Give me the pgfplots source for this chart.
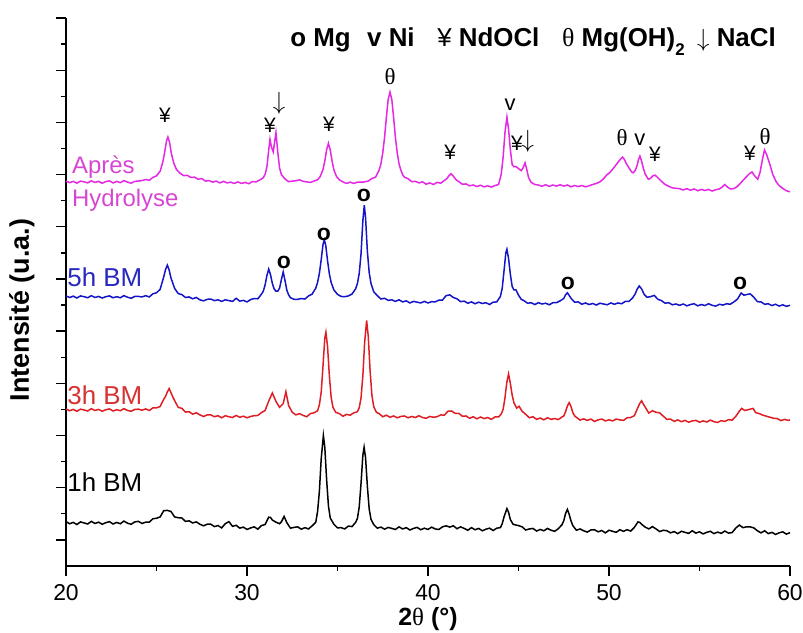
\documentclass[border=0pt]{standalone}
\usepackage{fontspec}
\setmainfont{Liberation Sans}
\newfontfamily\serif{Liberation Serif}
\usepackage{pgfplots}
\pgfplotsset{compat=1.18}
\definecolor{cred}{RGB}{222,30,36}
\definecolor{cblue}{RGB}{20,20,200}
\definecolor{cmag}{RGB}{228,40,228}
\definecolor{lmag}{RGB}{215,70,210}
\definecolor{lblue}{RGB}{40,40,190}
\definecolor{lred}{RGB}{215,50,50}
\newcommand{\fs}[1]{\fontsize{#1}{#1}\selectfont}
\begin{document}
\begin{tikzpicture}
\useasboundingbox (-66bp,-67bp) rectangle (737bp,566bp);
\begin{axis}[
 at={(0,0)}, anchor=south west, scale only axis, width=724bp, height=548bp,
 xmin=20, xmax=60, ymin=0, ymax=21,
 axis x line*=bottom, axis y line*=left,
 xtick={20,30,...,60}, minor xtick={25,35,45,55},
 ytick={1,3,...,21}, minor ytick={2,4,...,20}, yticklabels={},
 tick align=outside, major tick length=10bp, minor tick length=5bp,
 tick style={black, line width=1.3bp},
 axis line style={line width=1.5bp},
 xticklabel style={font=\fs{23}, yshift=-5bp},
 /pgf/number format/assume math mode=true,
 clip=false,
]
\addplot[black, line width=1.5bp] coordinates {(20.0,1.70)(20.2,1.62)(20.4,1.67)(20.6,1.59)(20.8,1.69)(21.0,1.65)(21.2,1.61)(21.4,1.71)(21.6,1.63)(21.8,1.68)(22.0,1.60)(22.2,1.66)(22.4,1.70)(22.6,1.61)(22.8,1.67)(23.0,1.62)(23.2,1.72)(23.4,1.64)(23.6,1.60)(23.8,1.69)(24.0,1.71)(24.2,1.63)(24.4,1.68)(24.6,1.68)(24.8,1.81)(25.0,1.83)(25.2,1.88)(25.4,2.12)(25.6,2.13)(25.8,2.09)(26.0,1.88)(26.2,1.85)(26.4,1.84)(26.6,1.71)(26.8,1.73)(27.0,1.65)(27.2,1.69)(27.4,1.60)(27.6,1.54)(27.8,1.60)(28.0,1.60)(28.2,1.51)(28.4,1.55)(28.6,1.46)(28.8,1.62)(29.0,1.70)(29.2,1.52)(29.4,1.56)(29.6,1.45)(29.8,1.49)(30.0,1.40)(30.2,1.46)(30.4,1.50)(30.6,1.41)(30.8,1.55)(31.0,1.59)(31.2,1.87)(31.3,1.86)(31.4,1.76)(31.6,1.68)(31.8,1.62)(31.9,1.69)(32.05,1.90)(32.2,1.66)(32.4,1.45)(32.6,1.48)(32.8,1.50)(33.0,1.41)(33.2,1.47)(33.4,1.42)(33.6,1.54)(33.8,1.68)(33.9,2.09)(34.0,2.87)(34.1,4.11)(34.22,5.00)(34.3,4.54)(34.4,3.30)(34.5,2.30)(34.6,1.84)(34.8,1.60)(35.0,1.46)(35.2,1.47)(35.4,1.42)(35.6,1.53)(35.8,1.51)(36.0,1.67)(36.1,1.82)(36.2,2.26)(36.3,3.16)(36.4,4.24)(36.47,4.55)(36.55,4.15)(36.65,3.06)(36.75,2.19)(36.85,1.79)(37.0,1.59)(37.2,1.45)(37.4,1.49)(37.6,1.41)(37.8,1.48)(38.0,1.44)(38.2,1.40)(38.4,1.50)(38.6,1.42)(38.8,1.47)(39.0,1.38)(39.2,1.44)(39.4,1.48)(39.6,1.39)(39.8,1.45)(40.0,1.40)(40.2,1.49)(40.4,1.42)(40.6,1.40)(40.8,1.50)(41.0,1.54)(41.2,1.49)(41.4,1.54)(41.6,1.43)(41.8,1.50)(42.0,1.44)(42.2,1.37)(42.4,1.47)(42.6,1.39)(42.8,1.44)(43.0,1.35)(43.2,1.41)(43.4,1.45)(43.6,1.36)(43.8,1.45)(44.0,1.47)(44.1,1.62)(44.2,1.88)(44.36,2.20)(44.45,2.06)(44.55,1.78)(44.7,1.60)(44.85,1.57)(45.0,1.55)(45.2,1.50)(45.4,1.38)(45.6,1.42)(45.8,1.44)(46.0,1.34)(46.2,1.40)(46.4,1.35)(46.6,1.44)(46.8,1.37)(47.0,1.33)(47.2,1.43)(47.4,1.58)(47.5,1.73)(47.6,2.01)(47.7,2.17)(47.8,1.98)(47.9,1.73)(48.0,1.55)(48.2,1.37)(48.4,1.42)(48.6,1.35)(48.8,1.30)(49.0,1.38)(49.2,1.39)(49.4,1.31)(49.6,1.36)(49.8,1.27)(50.0,1.37)(50.2,1.33)(50.4,1.29)(50.6,1.39)(50.8,1.33)(51.0,1.39)(51.2,1.34)(51.4,1.48)(51.6,1.69)(51.7,1.67)(51.8,1.60)(52.0,1.49)(52.2,1.42)(52.4,1.51)(52.6,1.42)(52.8,1.32)(53.0,1.37)(53.2,1.35)(53.4,1.27)(53.6,1.32)(53.8,1.24)(54.0,1.33)(54.2,1.29)(54.4,1.25)(54.6,1.35)(54.8,1.26)(55.0,1.31)(55.2,1.23)(55.4,1.29)(55.6,1.33)(55.8,1.24)(56.0,1.30)(56.2,1.25)(56.4,1.34)(56.6,1.26)(56.8,1.28)(57.0,1.45)(57.2,1.57)(57.4,1.47)(57.6,1.50)(57.8,1.50)(58.0,1.46)(58.2,1.35)(58.4,1.27)(58.6,1.35)(58.8,1.24)(59.0,1.29)(59.2,1.21)(59.4,1.27)(59.6,1.31)(59.8,1.22)(60.0,1.28)};
\addplot[cred, line width=1.5bp] coordinates {(20.0,6.02)(20.2,5.95)(20.4,6.00)(20.6,5.93)(20.8,6.01)(21.0,5.98)(21.2,5.94)(21.4,6.03)(21.6,5.96)(21.8,6.00)(22.0,5.93)(22.2,5.99)(22.4,6.02)(22.6,5.94)(22.8,5.99)(23.0,5.95)(23.2,6.03)(23.4,5.96)(23.6,5.93)(23.8,6.00)(24.0,6.01)(24.2,5.97)(24.4,6.02)(24.6,5.96)(24.8,6.06)(25.0,6.06)(25.2,6.11)(25.4,6.39)(25.5,6.50)(25.6,6.67)(25.7,6.80)(25.8,6.64)(25.9,6.48)(26.0,6.34)(26.2,6.08)(26.4,6.04)(26.6,5.90)(26.8,5.91)(27.0,5.82)(27.2,5.87)(27.4,5.79)(27.6,5.73)(27.8,5.79)(28.0,5.79)(28.2,5.72)(28.4,5.76)(28.6,5.68)(28.8,5.76)(29.0,5.72)(29.2,5.69)(29.4,5.77)(29.6,5.70)(29.8,5.74)(30.0,5.68)(30.2,5.73)(30.4,5.76)(30.6,5.77)(30.8,5.88)(31.0,5.96)(31.2,6.32)(31.4,6.63)(31.6,6.31)(31.8,6.08)(32.0,6.22)(32.15,6.68)(32.3,6.15)(32.5,5.89)(32.7,5.79)(32.9,5.84)(33.1,5.77)(33.3,5.72)(33.5,5.84)(33.7,5.87)(33.9,5.95)(34.0,6.18)(34.1,6.66)(34.2,7.68)(34.3,8.74)(34.36,8.96)(34.45,8.42)(34.55,7.30)(34.65,6.46)(34.75,6.08)(34.9,5.89)(35.1,5.84)(35.3,5.74)(35.5,5.81)(35.7,5.78)(35.9,5.87)(36.1,5.91)(36.2,6.07)(36.3,6.44)(36.4,7.28)(36.5,8.57)(36.61,9.41)(36.7,8.79)(36.8,7.50)(36.9,6.55)(37.0,6.11)(37.15,5.89)(37.3,5.84)(37.5,5.72)(37.7,5.78)(37.9,5.70)(38.1,5.75)(38.3,5.68)(38.5,5.73)(38.7,5.75)(38.9,5.68)(39.1,5.73)(39.3,5.69)(39.5,5.76)(39.7,5.69)(39.9,5.66)(40.1,5.73)(40.3,5.70)(40.5,5.72)(40.7,5.79)(40.9,5.78)(41.1,5.93)(41.3,5.94)(41.5,5.85)(41.7,5.85)(41.9,5.74)(42.1,5.75)(42.3,5.66)(42.5,5.72)(42.7,5.64)(42.9,5.71)(43.1,5.65)(43.3,5.69)(43.5,5.62)(43.7,5.71)(43.9,5.71)(44.05,5.83)(44.15,6.00)(44.25,6.43)(44.35,7.02)(44.45,7.36)(44.55,7.00)(44.65,6.55)(44.75,6.25)(44.9,6.05)(45.03,6.12)(45.2,5.93)(45.4,5.81)(45.6,5.68)(45.8,5.72)(46.0,5.62)(46.2,5.67)(46.4,5.60)(46.6,5.68)(46.8,5.62)(47.0,5.65)(47.2,5.61)(47.4,5.71)(47.5,5.75)(47.6,5.91)(47.7,6.13)(47.8,6.26)(47.9,6.11)(48.0,5.88)(48.1,5.75)(48.25,5.67)(48.4,5.59)(48.6,5.64)(48.8,5.58)(49.0,5.63)(49.2,5.54)(49.4,5.60)(49.6,5.63)(49.8,5.56)(50.0,5.60)(50.2,5.56)(50.4,5.63)(50.6,5.60)(50.8,5.58)(51.0,5.68)(51.2,5.69)(51.4,5.76)(51.6,6.08)(51.7,6.23)(51.8,6.33)(51.9,6.20)(52.0,6.09)(52.2,5.86)(52.4,5.95)(52.6,5.89)(52.8,5.87)(53.0,5.74)(53.2,5.62)(53.4,5.63)(53.6,5.54)(53.8,5.60)(54.0,5.53)(54.2,5.58)(54.4,5.51)(54.6,5.56)(54.8,5.58)(55.0,5.51)(55.2,5.56)(55.4,5.52)(55.6,5.59)(55.8,5.53)(56.0,5.50)(56.2,5.57)(56.4,5.54)(56.6,5.61)(56.8,5.59)(57.0,5.73)(57.2,5.93)(57.33,6.04)(57.5,5.96)(57.7,5.99)(57.96,6.04)(58.1,5.88)(58.3,5.84)(58.5,5.78)(58.7,5.74)(58.9,5.70)(59.1,5.66)(59.3,5.65)(59.5,5.57)(59.7,5.62)(59.9,5.58)(60.0,5.60)};
\addplot[cblue, line width=1.5bp] coordinates {(20.0,10.35)(20.2,10.29)(20.4,10.34)(20.6,10.27)(20.8,10.35)(21.0,10.32)(21.2,10.28)(21.4,10.36)(21.6,10.29)(21.8,10.33)(22.0,10.27)(22.2,10.32)(22.4,10.35)(22.6,10.28)(22.8,10.32)(23.0,10.28)(23.2,10.36)(23.4,10.30)(23.6,10.26)(23.8,10.33)(24.0,10.33)(24.2,10.31)(24.4,10.36)(24.6,10.31)(24.8,10.43)(25.0,10.47)(25.2,10.60)(25.4,11.08)(25.5,11.36)(25.6,11.53)(25.7,11.34)(25.8,11.04)(26.0,10.64)(26.2,10.44)(26.4,10.40)(26.6,10.29)(26.8,10.31)(27.0,10.24)(27.2,10.29)(27.4,10.20)(27.6,10.16)(27.8,10.22)(28.0,10.23)(28.2,10.17)(28.4,10.20)(28.6,10.14)(28.8,10.20)(29.0,10.17)(29.2,10.14)(29.4,10.26)(29.6,10.15)(29.8,10.18)(30.0,10.12)(30.2,10.21)(30.4,10.25)(30.6,10.24)(30.8,10.42)(30.9,10.53)(31.0,10.77)(31.1,11.13)(31.2,11.38)(31.3,11.16)(31.4,10.83)(31.5,10.62)(31.6,10.53)(31.7,10.53)(31.8,10.65)(31.9,10.97)(32.0,11.27)(32.1,10.94)(32.2,10.57)(32.3,10.39)(32.4,10.28)(32.6,10.22)(32.8,10.22)(33.0,10.25)(33.2,10.23)(33.4,10.35)(33.6,10.42)(33.8,10.65)(33.9,10.87)(34.0,11.22)(34.1,11.74)(34.2,12.32)(34.27,12.50)(34.35,12.29)(34.45,11.70)(34.55,11.20)(34.65,10.86)(34.8,10.58)(35.0,10.41)(35.2,10.33)(35.4,10.32)(35.6,10.35)(35.8,10.42)(36.0,10.62)(36.1,10.82)(36.2,11.21)(36.3,11.96)(36.4,13.22)(36.48,13.83)(36.55,13.35)(36.65,12.06)(36.75,11.25)(36.85,10.83)(37.0,10.51)(37.2,10.36)(37.4,10.23)(37.6,10.26)(37.8,10.18)(38.0,10.20)(38.2,10.14)(38.4,10.20)(38.6,10.12)(38.8,10.16)(39.0,10.08)(39.2,10.14)(39.4,10.11)(39.6,10.08)(39.8,10.14)(40.0,10.08)(40.2,10.13)(40.4,10.12)(40.6,10.19)(40.8,10.19)(41.0,10.36)(41.2,10.39)(41.4,10.29)(41.6,10.24)(41.8,10.13)(42.0,10.15)(42.2,10.07)(42.4,10.12)(42.6,10.05)(42.8,10.11)(43.0,10.06)(43.2,10.09)(43.4,10.02)(43.6,10.11)(43.8,10.12)(44.0,10.33)(44.1,10.64)(44.2,11.31)(44.3,12.00)(44.36,12.14)(44.45,11.79)(44.55,11.18)(44.65,10.71)(44.75,10.58)(44.86,10.58)(45.0,10.38)(45.15,10.22)(45.3,10.17)(45.5,10.07)(45.7,10.09)(45.9,10.02)(46.1,10.09)(46.3,10.04)(46.5,10.07)(46.7,10.01)(46.9,10.09)(47.1,10.09)(47.3,10.16)(47.5,10.25)(47.6,10.39)(47.7,10.47)(47.8,10.37)(47.9,10.26)(48.1,10.11)(48.3,10.12)(48.5,10.03)(48.7,10.08)(48.9,10.02)(49.1,10.06)(49.3,10.00)(49.5,10.07)(49.7,10.04)(49.9,10.01)(50.1,10.08)(50.3,10.03)(50.5,10.08)(50.7,10.05)(50.9,10.14)(51.1,10.14)(51.3,10.27)(51.45,10.43)(51.55,10.60)(51.67,10.73)(51.8,10.62)(51.95,10.40)(52.1,10.30)(52.3,10.32)(52.5,10.37)(52.7,10.22)(52.9,10.17)(53.1,10.07)(53.3,10.09)(53.5,10.01)(53.7,10.04)(53.9,9.99)(54.1,10.04)(54.3,9.97)(54.5,10.02)(54.7,10.05)(54.9,9.97)(55.1,10.02)(55.3,9.98)(55.5,10.05)(55.7,9.99)(55.9,9.96)(56.1,10.03)(56.3,10.00)(56.5,10.05)(56.7,10.03)(56.9,10.12)(57.1,10.23)(57.3,10.46)(57.45,10.38)(57.6,10.40)(57.8,10.43)(58.0,10.30)(58.2,10.13)(58.4,10.12)(58.6,10.03)(58.8,10.05)(59.0,9.98)(59.2,10.03)(59.4,9.96)(59.6,10.01)(59.8,9.95)(60.0,9.99)};
\addplot[cmag, line width=1.5bp] coordinates {(20.0,14.75)(20.2,14.69)(20.4,14.74)(20.6,14.67)(20.8,14.75)(21.0,14.72)(21.2,14.68)(21.4,14.76)(21.6,14.70)(21.8,14.74)(22.0,14.67)(22.2,14.73)(22.4,14.76)(22.6,14.68)(22.8,14.74)(23.0,14.69)(23.2,14.77)(23.4,14.71)(23.6,14.67)(23.8,14.74)(24.0,14.75)(24.2,14.77)(24.4,14.81)(24.6,14.78)(24.8,14.89)(25.0,14.95)(25.2,15.13)(25.35,15.48)(25.45,15.85)(25.55,16.28)(25.63,16.44)(25.72,16.24)(25.82,15.81)(25.95,15.45)(26.1,15.20)(26.3,15.05)(26.5,14.96)(26.7,14.97)(26.9,14.89)(27.1,14.90)(27.3,14.82)(27.5,14.85)(27.7,14.75)(27.9,14.77)(28.1,14.71)(28.3,14.75)(28.5,14.68)(28.7,14.74)(28.9,14.68)(29.1,14.71)(29.3,14.66)(29.5,14.72)(29.7,14.66)(29.9,14.70)(30.1,14.65)(30.3,14.73)(30.5,14.72)(30.7,14.79)(30.9,14.88)(31.0,15.01)(31.1,15.29)(31.2,15.94)(31.27,16.35)(31.35,16.06)(31.45,15.87)(31.53,16.28)(31.6,16.61)(31.7,15.86)(31.8,15.25)(31.9,15.00)(32.1,14.83)(32.3,14.73)(32.5,14.75)(32.7,14.76)(32.9,14.80)(33.1,14.74)(33.3,14.72)(33.5,14.70)(33.7,14.75)(33.9,14.80)(34.05,14.93)(34.2,15.20)(34.3,15.52)(34.4,15.95)(34.5,16.20)(34.6,15.94)(34.7,15.52)(34.8,15.18)(34.95,14.92)(35.1,14.80)(35.3,14.72)(35.5,14.66)(35.7,14.71)(35.9,14.66)(36.1,14.71)(36.4,14.71)(36.7,14.75)(36.9,14.85)(37.1,14.90)(37.3,15.17)(37.4,15.41)(37.5,15.83)(37.6,16.42)(37.7,17.19)(37.8,17.88)(37.9,18.16)(38.0,17.88)(38.1,17.19)(38.2,16.42)(38.3,15.83)(38.4,15.41)(38.5,15.17)(38.6,14.99)(38.7,14.90)(38.9,14.84)(39.1,14.73)(39.3,14.74)(39.5,14.68)(39.7,14.72)(39.9,14.63)(40.1,14.68)(40.3,14.62)(40.5,14.70)(40.7,14.67)(40.9,14.77)(41.05,14.85)(41.15,14.95)(41.27,15.03)(41.4,14.94)(41.55,14.80)(41.7,14.73)(41.9,14.63)(42.1,14.64)(42.3,14.57)(42.5,14.60)(42.7,14.54)(42.9,14.59)(43.1,14.53)(43.3,14.57)(43.5,14.52)(43.7,14.58)(43.9,14.62)(44.05,15.03)(44.15,15.66)(44.25,16.59)(44.36,17.20)(44.45,16.75)(44.55,15.95)(44.65,15.38)(44.75,15.30)(44.85,15.31)(44.95,15.26)(45.05,15.20)(45.15,15.15)(45.25,15.25)(45.36,15.45)(45.45,15.22)(45.55,14.90)(45.7,14.70)(45.9,14.62)(46.1,14.60)(46.3,14.55)(46.5,14.61)(46.7,14.55)(46.9,14.60)(47.1,14.56)(47.3,14.61)(47.5,14.56)(47.7,14.60)(47.9,14.53)(48.1,14.58)(48.3,14.54)(48.5,14.58)(48.7,14.53)(48.9,14.57)(49.1,14.62)(49.3,14.66)(49.5,14.72)(49.7,14.84)(49.87,14.98)(50.05,15.08)(50.24,15.24)(50.4,15.38)(50.55,15.52)(50.65,15.60)(50.75,15.67)(50.85,15.58)(50.95,15.43)(51.1,15.26)(51.25,15.10)(51.35,15.07)(51.45,15.16)(51.55,15.34)(51.63,15.58)(51.71,15.71)(51.8,15.52)(51.9,15.24)(52.0,15.02)(52.17,14.82)(52.3,14.86)(52.42,14.95)(52.54,14.98)(52.7,14.88)(52.9,14.74)(53.1,14.62)(53.3,14.55)(53.5,14.49)(53.74,14.47)(53.9,14.46)(54.1,14.41)(54.3,14.46)(54.5,14.40)(54.7,14.45)(54.9,14.38)(55.1,14.43)(55.3,14.39)(55.5,14.43)(55.7,14.37)(55.9,14.42)(56.1,14.45)(56.25,14.52)(56.4,14.62)(56.55,14.52)(56.7,14.45)(56.9,14.46)(57.1,14.55)(57.25,14.66)(57.42,14.79)(57.6,14.92)(57.75,15.03)(57.9,15.10)(58.05,14.95)(58.22,14.82)(58.35,15.10)(58.47,15.55)(58.59,15.94)(58.7,15.78)(58.87,15.43)(59.05,15.00)(59.24,14.72)(59.4,14.58)(59.6,14.47)(59.8,14.38)(60.0,14.34)};
% curve labels
\node[anchor=west, inner sep=0, text=lmag, font=\fs{24}] at (axis cs:20.33,15.29) {Après};
\node[anchor=west, inner sep=0, text=lmag, font=\fs{24}] at (axis cs:20.33,14.02) {Hydrolyse};
\node[anchor=west, inner sep=0, text=lblue, font=\fs{26}] at (axis cs:20.07,11.07) {5h BM};
\node[anchor=west, inner sep=0, text=lred, font=\fs{26}] at (axis cs:20.07,6.55) {3h BM};
\node[anchor=west, inner sep=0, text=black, font=\fs{26}] at (axis cs:20.07,3.22) {1h BM};
% peak annotations
\begin{scope}[every node/.style={inner sep=0, font=\fs{21}}]
\node at (axis cs:25.47,17.28) {¥};
\node at (axis cs:31.27,16.90) {¥};
\node[font=\fs{24}] at (axis cs:31.77,17.74) {$\downarrow$};
\node at (axis cs:34.53,16.93) {¥};
\node[font=\fs{23}\serif] at (axis cs:37.90,18.74) {θ};
\node at (axis cs:41.22,15.86) {¥};
\node[font=\fs{22}] at (axis cs:44.53,17.66) {v};
\node at (axis cs:44.92,16.21) {¥};
\node[font=\fs{24}] at (axis cs:45.52,16.28) {$\downarrow$};
\node[font=\fs{23}\serif] at (axis cs:50.72,16.40) {θ};
\node[font=\fs{22}] at (axis cs:51.71,16.32) {v};
\node at (axis cs:52.54,15.79) {¥};
\node at (axis cs:57.79,15.82) {¥};
\node[font=\fs{23}\serif] at (axis cs:58.62,16.44) {θ};
\node[font=\fs{23}\bfseries] at (axis cs:32.04,11.65) {o};
\node[font=\fs{23}\bfseries] at (axis cs:34.25,12.72) {o};
\node[font=\fs{23}\bfseries] at (axis cs:36.46,14.21) {o};
\node[font=\fs{23}\bfseries] at (axis cs:47.73,10.84) {o};
\node[font=\fs{23}\bfseries] at (axis cs:57.24,10.84) {o};
\end{scope}
% legend
\begin{scope}[every node/.style={inner sep=0, anchor=base west, font=\fs{26}\bfseries}]
\node at (axis cs:32.38,19.92) {o Mg};
\node at (axis cs:36.63,19.92) {v Ni};
\node at (axis cs:40.50,19.92) {{\mdseries ¥} NdOCl};
\node at (axis cs:47.40,19.92) {{\serif\mdseries θ} Mg(OH)\raisebox{-0.35em}{\fs{17}2}};
\node at (axis cs:54.86,19.92) {{\mdseries$\downarrow$} NaCl};
\end{scope}
% axis titles
\node[rotate=90, inner sep=0, font=\fs{27}\bfseries] at (rel axis cs:-0.061,0.467) {Intensité (u.a.)};
\node[inner sep=0, font=\fs{25}\bfseries] at (rel axis cs:0.5,-0.097) {2{\serif\mdseries θ} (°)};
\end{axis}
\end{tikzpicture}
\end{document}
